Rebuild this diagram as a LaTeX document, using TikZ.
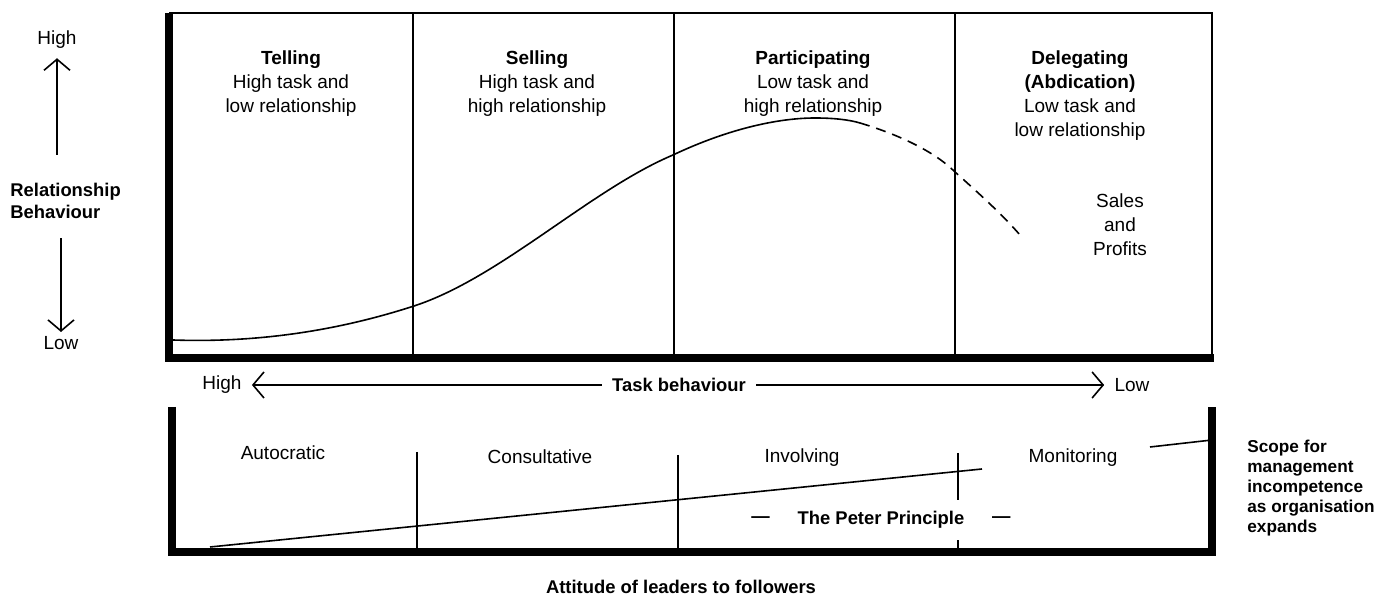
\documentclass[tikz,border=0pt]{standalone}
\usepackage{fontspec}
\setmainfont{Liberation Sans}
\usepackage{tikz}
\usetikzlibrary{positioning,calc,arrows.meta}

\begin{document}
\begin{tikzpicture}[x=0.5pt,y=-0.5pt,
    every node/.style={font=\fontsize{9.5}{12}\selectfont,inner sep=0pt},
    boldtext/.style={font=\fontsize{9.2}{11}\selectfont\bfseries},
    head/.style={align=center,anchor=north},
    frame/.style={line width=3.6pt,line join=miter},
    thin/.style={line width=0.8pt},
    barb/.style={thin,-{Straight Barb[length=5.5pt,width=13pt]}}]
    \useasboundingbox (0,0) rectangle (1393,597);

    % relationship axis
    \node (relhigh) at (57,40) {High};
    \node (relbeh) [boldtext,align=left,anchor=west] at (10,201) {Relationship\\Behaviour};
    \node (rellow) at (61,343) {Low};
    \draw [barb,shorten <=14pt,shorten >=4.5pt] (relhigh.south |- relbeh.north) -- (relhigh.south);
    \draw [barb,shorten <=9.5pt,shorten >=2pt] (rellow.north |- relbeh.south) -- (rellow.north);

    % upper box
    \draw [thin] (169,13) -- (1212,13) -- (1212,358);
    \draw [frame] (169,13) -- (169,358) -- (1214,358);
    \foreach \x in {413,674,955}
      \draw [thin] (\x,13) -- (\x,358);

    \node (telling) [head] at (291,50) {\textbf{Telling}\\High task and\\low relationship};
    \node (selling) [head] at (537,50) {\textbf{Selling}\\High task and\\high relationship};
    \node (participating) [head] at (813,50) {\textbf{Participating}\\Low task and\\high relationship};
    \node (delegating) [head] at (1080,50) {\textbf{Delegating}\\\textbf{(Abdication)}\\Low task and\\low relationship};
    \node (sales) [align=center] at (1120,225) {Sales\\and\\Profits};

    \draw [thin] (173,340) .. controls (260,343) and (340,330) .. (414,306)
      .. controls (500,278) and (590,190) .. (673,155)
      .. controls (730,128) and (780,118) .. (815,118)
      .. controls (835,118) and (850,120) .. (860,123) coordinate (turn);
    \draw [thin,dash pattern=on 5pt off 3.5pt] (turn) .. controls (900,135) and (935,152) .. (955,172)
      .. controls (975,190) and (1000,212) .. (1020,235);

    % task axis
    \node (hightask) [inner xsep=5pt] at (222,385) {High};
    \node (taskbeh) [boldtext,inner xsep=5pt] at (679,385) {Task behaviour};
    \node (lowtask) [inner xsep=5pt] at (1132,385) {Low};
    \draw [barb] (taskbeh) -- (hightask);
    \draw [barb] (taskbeh) -- (lowtask);

    % lower box
    \draw [frame] (172,407) -- (172,552) -- (1212,552) -- (1212,407);
    \draw [thin] (417,452) -- (417,552);
    \draw [thin] (678,455) -- (678,552);
    \draw [thin] (958,453) -- (958,552);
    \draw [thin] (210,547) -- (982,469);
    \draw [thin] (1150,447) -- (1212,440);

    \node (autocratic) at (283,453) {Autocratic};
    \node (consultative) at (540,457) {Consultative};
    \node (involving) at (802,458) {Involving};
    \node (monitoring) at (1073,458) {Monitoring};

    \node (peter) [boldtext,fill=white,inner ysep=5.5pt] at (881,520) {The Peter Principle};
    \node [boldtext,left=13.5pt of peter] {—};
    \node [boldtext,right=13.5pt of peter] {—};

    \node (attitude) [boldtext] at (681,587) {Attitude of leaders to followers};
    \node (scope) [boldtext,font=\fontsize{8.6}{10}\selectfont\bfseries,align=left,anchor=west] at (1247,488)
      {Scope for\\management\\incompetence\\as organisation\\expands};
\end{tikzpicture}
\end{document}
